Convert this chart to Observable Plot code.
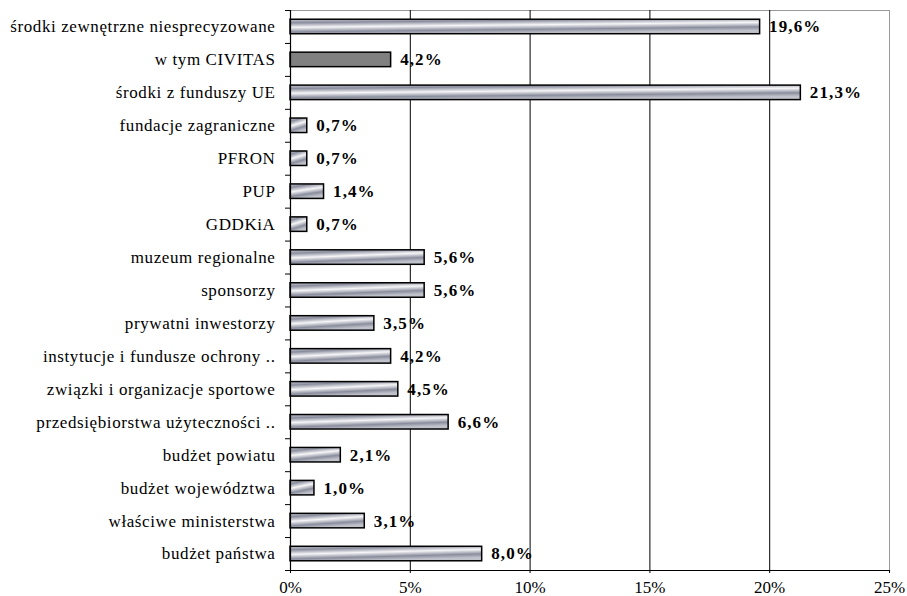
<!DOCTYPE html>
<html>
<head>
<meta charset="utf-8">
<script src="https://cdn.jsdelivr.net/npm/d3@7"></script>
<script src="https://cdn.jsdelivr.net/npm/@observablehq/plot@0.6"></script>
<style>
  html, body { margin: 0; padding: 0; background: #fff; overflow: hidden; }
  svg { display: block; }
  svg text { font-family: "Liberation Serif", "Times New Roman", "DejaVu Serif", serif; }
  .ylab text { letter-spacing: 0.6px; }
  .vlab text { letter-spacing: 1.1px; }
</style>
</head>
<body>
<div id="chart"></div>
<script>
const categories = [
  "środki zewnętrzne niesprecyzowane",
  "w tym CIVITAS",
  "środki z funduszy UE",
  "fundacje zagraniczne",
  "PFRON",
  "PUP",
  "GDDKiA",
  "muzeum regionalne",
  "sponsorzy",
  "prywatni inwestorzy",
  "instytucje i fundusze ochrony ..",
  "związki i organizacje sportowe",
  "przedsiębiorstwa użyteczności ..",
  "budżet powiatu",
  "budżet województwa",
  "właściwe ministerstwa",
  "budżet państwa"
];
const values = [19.6, 4.2, 21.3, 0.7, 0.7, 1.4, 0.7, 5.6, 5.6, 3.5, 4.2, 4.5, 6.6, 2.1, 1.0, 3.1, 8.0];
const highlighted = ["w tym CIVITAS"];
const xTicks = [0, 5, 10, 15, 20, 25];
const gridTicks = [5, 10, 15, 20];

const data = categories.map((name, i) => ({name, value: values[i], hi: highlighted.includes(name)}));

const W = 907, H = 596, mT = 10, mB = 26, mL = 290, mR = 18;
const step = (H - mT - mB) / categories.length;
const font = "'Liberation Serif', 'Times New Roman', 'DejaVu Serif', serif";

const chart = Plot.plot({
  width: W,
  height: H,
  marginTop: mT,
  marginBottom: mB,
  marginLeft: mL,
  marginRight: mR,
  style: {fontFamily: font, background: "#fff", color: "#000"},
  x: {domain: [0, 25], label: null},
  y: {domain: categories, paddingInner: 0.56, paddingOuter: 0.28, round: false, label: null},
  marks: [
    Plot.frame({stroke: "#999", strokeWidth: 1}),
    Plot.ruleX(gridTicks, {stroke: "#000", strokeWidth: 1}),
    Plot.barX(data.filter(d => !d.hi), {x: "value", y: "name", fill: "url(#barGrad)", stroke: "#000", strokeWidth: 1.5}),
    Plot.barX(data.filter(d => d.hi), {x: "value", y: "name", fill: "#808080", stroke: "#000", strokeWidth: 1.5}),
    Plot.text(data, {x: "value", y: "name", text: d => d.value.toFixed(1).replace(".", ",") + "%", textAnchor: "start", dx: 9, fontWeight: "bold", fontSize: 17, fontFamily: font, fill: "#000", className: "vlab"}),
    Plot.ruleX([0], {stroke: "#000", strokeWidth: 1.2}),
    Plot.frame({anchor: "bottom", stroke: "#000", strokeWidth: 1.2}),
    Plot.axisY({tickSize: 5, tickFormat: () => "", dy: -step / 2, stroke: "#000", label: null}),
    Plot.axisY({ticks: [categories[categories.length - 1]], tickSize: 5, tickFormat: () => "", dy: step / 2, stroke: "#000", label: null}),
    Plot.axisY({tickSize: 0, tickPadding: 15, fontSize: 17, fontFamily: font, fill: "#000", label: null, className: "ylab"}),
    Plot.axisX({ticks: xTicks, tickFormat: d => d + "%", tickSize: 3, tickPadding: 7, fontSize: 17, fontFamily: font, fill: "#000", stroke: "#000", label: null})
  ]
});

const defs = d3.select(chart).insert("defs", ":first-child");
const g = defs.append("linearGradient").attr("id", "barGrad")
  .attr("x1", 0).attr("y1", 0).attr("x2", 0.35).attr("y2", 1);
[[0, "#c4c6cf"], [0.22, "#8a8d9d"], [0.5, "#f6f6f8"], [0.78, "#8a8d9d"], [1, "#c0c2cb"]]
  .forEach(([o, c]) => g.append("stop").attr("offset", o).attr("stop-color", c));

document.getElementById("chart").appendChild(chart);
</script>
</body>
</html>
